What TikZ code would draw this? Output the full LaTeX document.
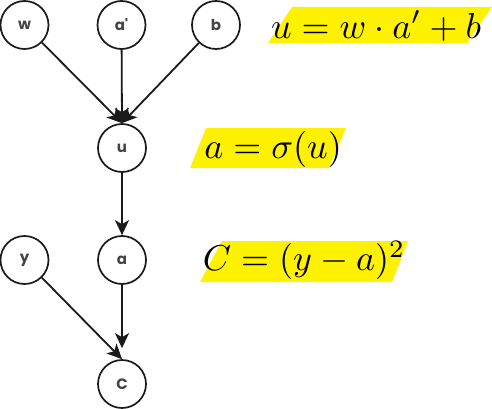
\documentclass[tikz,border=0pt]{standalone}
\usepackage{fontspec}
\newfontfamily\nodefont{Poppins}[BoldFont={Poppins Bold}]
\usetikzlibrary{arrows.meta}
\definecolor{hl}{HTML}{FFF200}
\definecolor{lbl}{HTML}{444444}
\definecolor{ink}{HTML}{1A1A1A}
\tikzset{
  var/.style={circle, draw=ink, line width=1.7pt, minimum size=48pt, inner sep=0pt,
    font=\nodefont\bfseries\fontsize{15}{17}\selectfont, text=lbl},
  edge/.style={draw=ink, line width=1.8pt, -{Stealth[length=15pt,width=14pt,inset=4pt]}},
  eq/.style={inner sep=0pt, scale=3.6},
  band/.style={fill=hl, draw=none}
}
\begin{document}
\begin{tikzpicture}[x=1pt,y=-1pt]
\useasboundingbox (0,0) rectangle (492,409);
% highlight bands
\fill[band] (292,7) -- (492,7) -- (467,43) -- (268,43) -- cycle;
\fill[band] (206,128) -- (346,128) -- (329,168) -- (190,168) -- cycle;
\fill[band] (222,241) -- (408,241) -- (392,282) -- (200,282) -- cycle;
% equations
\node[eq] (eq1) at (376,26) {$u = w\cdot a' + b$};
\node[eq] (eq2) at (273,149) {$a = \sigma(u)$};
\node[eq] (eq3) at (304,260) {$C = (y-a)^2$};
% variables
\node[var] (w) at (24.5,25) {w};
\node[var] (ap) at (121.5,25) {a\char"27};
\node[var] (b) at (216,25) {b};
\node[var] (u) at (122,148) {u};
\node[var] (a) at (122,260) {a};
\node[var] (y) at (24.5,260) {y};
\node[var] (C) at (122,384) {C};
% connectors
\draw[edge] (w) -- (u.north);
\draw[edge] (ap) -- (u.north);
\draw[edge] (b) -- (u.north);
\draw[edge] (u) -- (a.north);
\draw[edge, shorten >=11pt] (a) -- (C.north);
\draw[edge] (y) -- (C.north);
\end{tikzpicture}
\end{document}
